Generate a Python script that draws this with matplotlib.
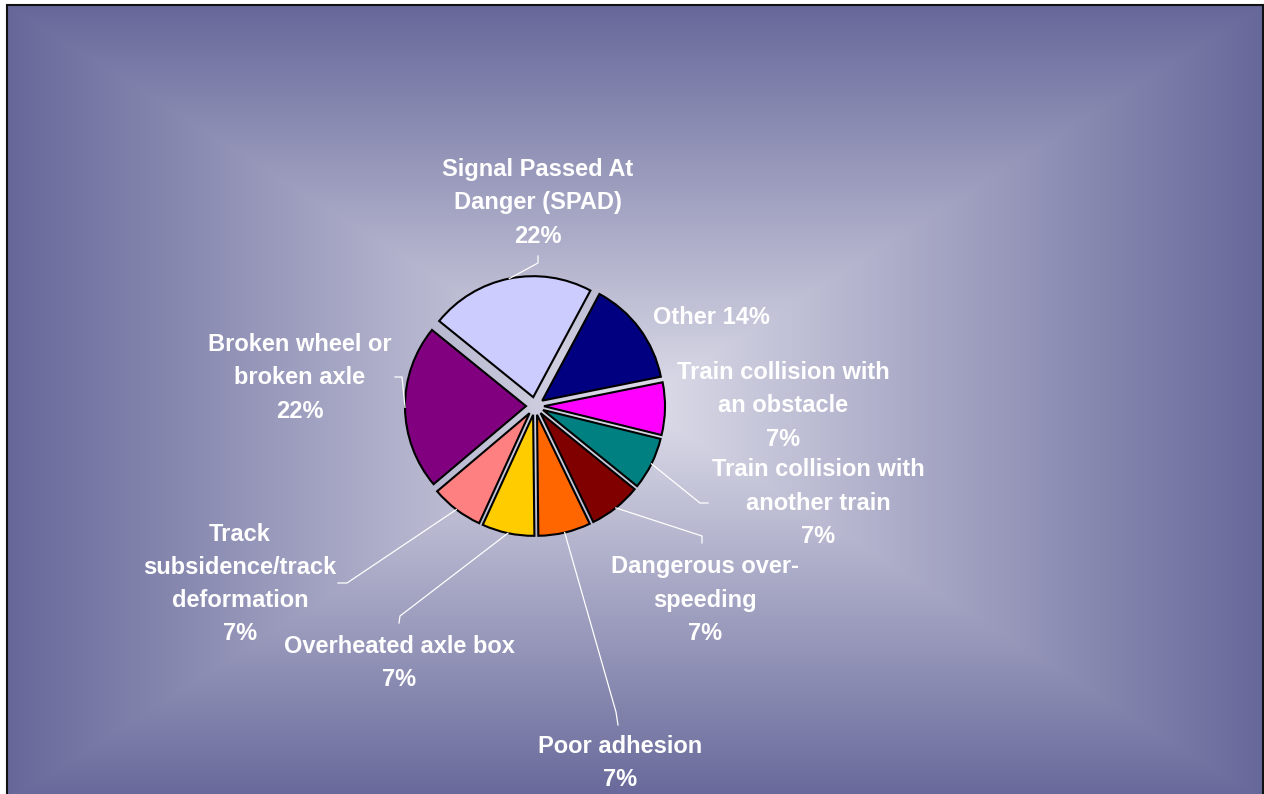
import numpy as np
import matplotlib
matplotlib.use("Agg")
import matplotlib.pyplot as plt
from matplotlib.patches import Rectangle

W, H = 1264, 794

causes = ["Signal Passed At\nDanger (SPAD)", "Other", "Train collision with\nan obstacle",
          "Train collision with\nanother train", "Dangerous over-\nspeeding", "Poor adhesion",
          "Overheated axle box", "Track\nsubsidence/track\ndeformation",
          "Broken wheel or\nbroken axle"]
shares = [22, 14, 7, 7, 7, 7, 7, 7, 22]
colors = ["#CCCCFF", "#000080", "#FF00FF", "#008080", "#800000",
          "#FF6600", "#FFCC00", "#FF8080", "#800080"]

# label centres (pixels from top-left) and leader elbow / end points
label_xy = [(538, 203), (711, 318), (783, 406), (818, 503), (705, 600),
            (620, 763), (399, 663), (240, 584), (300, 378)]
leaders = [[(538, 263), (538, 256)], None, None,
           [(700, 503), (708, 503)], [(702, 536), (702, 543)],
           [(616, 712), (618, 725)], [(400, 616), (399, 623)],
           [(347, 583), (338, 583)], [(402, 377), (395, 377)]]

R = 121        # pie radius in pixels
GAP = 9        # how far each slice is pulled out


def flip(p):
    return (p[0], H - p[1])


fig = plt.figure(figsize=(W / 100, H / 100), dpi=100)
ax = fig.add_axes([0, 0, 1, 1])

# rectangular "from centre" gradient behind the chart
x0, x1, ytop, ybot = 7, 1263, 5, 800
cx, cy = (x0 + x1) / 2, (ytop + ybot) / 2
xx, yy = np.meshgrid(np.arange(x0, x1), np.arange(ytop, ybot))
t = np.maximum(np.abs(xx - cx) / ((x1 - x0) / 2), np.abs(yy - cy) / ((ybot - ytop) / 2))
t = np.clip(t, 0, 1)
inner = np.array([222, 222, 234]) / 255
outer = np.array([103, 104, 154]) / 255
img = inner + (outer - inner) * t[..., None]
ax.imshow(img, extent=(x0, x1, H - ybot, H - ytop), origin="upper", zorder=0, aspect="auto")
ax.add_patch(Rectangle((x0, H - ybot), x1 - x0, ybot - ytop, fill=False,
                       edgecolor="#111111", linewidth=1.5, zorder=5))

wedges, _ = ax.pie(shares, colors=colors, startangle=141, counterclock=False,
                   explode=[GAP] * len(shares), radius=R, center=flip((535, 406)),
                   wedgeprops=dict(edgecolor="black", linewidth=1.5))

for w, name, v, pos, lead in zip(wedges, causes, shares, label_xy, leaders):
    pct = f"{v:.0f}%"
    txt = name + " " + pct if name == "Other" else name + "\n" + pct
    ax.text(*flip(pos), txt, ha="center", va="center", color="white",
            fontsize=17, fontweight="bold", family="Liberation Sans",
            linespacing=1.57, zorder=6)
    if lead:
        mid = np.deg2rad((w.theta1 + w.theta2) / 2)
        sx = w.center[0] + w.r * np.cos(mid)
        sy = w.center[1] + w.r * np.sin(mid)
        pts = [(sx, sy)] + [flip(p) for p in lead]
        ax.plot([p[0] for p in pts], [p[1] for p in pts], color="white", lw=0.9, zorder=4)

ax.set_xlim(0, W)
ax.set_ylim(0, H)
ax.set_aspect("equal")
ax.axis("off")
fig.savefig("out.png", dpi=100, facecolor="white")
